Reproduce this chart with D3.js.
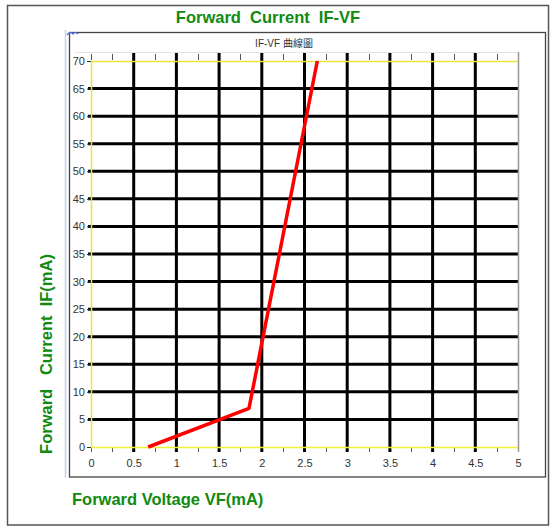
<!DOCTYPE html>
<html>
<head>
<meta charset="utf-8">
<script src="https://cdn.jsdelivr.net/npm/d3@7"></script>
<style>
  body { margin: 0; background: #fff; }
  text { font-family: "Liberation Sans", Arial, sans-serif; }
</style>
</head>
<body>
<div id="container"></div>
<script>
// data
var vfValues = [0.67, 1.85, 2.65];
var ifValues = [0, 7, 70];
var xTicks = [0, 0.5, 1, 1.5, 2, 2.5, 3, 3.5, 4, 4.5, 5];
var xMinorTicks = d3.range(0, 5.01, 0.25);
var yTicks = [0, 5, 10, 15, 20, 25, 30, 35, 40, 45, 50, 55, 60, 65, 70];
var xGrid = [0.5, 1, 1.5, 2, 2.5, 3, 3.5, 4, 4.5];
var yGrid = [5, 10, 15, 20, 25, 30, 35, 40, 45, 50, 55, 60, 65];

var width = 550, height = 527;
var green = "#108a10";

var svg = d3.select("#container").append("svg")
    .attr("width", width)
    .attr("height", height);

var x = d3.scaleLinear().domain([0, 5]).range([91, 518]);
var y = d3.scaleLinear().domain([0, 70]).range([447, 61]);

// outer frame
svg.append("rect")
    .attr("x", 7.5).attr("y", 5.5)
    .attr("width", 541).attr("height", 519.5)
    .attr("fill", "#fff").attr("stroke", "#555").attr("stroke-width", 1.5);

// light blue left line and inner chart box
svg.append("line")
    .attr("x1", 65.5).attr("x2", 65.5).attr("y1", 30).attr("y2", 478)
    .attr("stroke", "#c4d4ee").attr("stroke-width", 1.5);
svg.append("rect")
    .attr("x", 69.5).attr("y", 32.5)
    .attr("width", 476).attr("height", 444.5)
    .attr("fill", "#fff").attr("stroke", "#444").attr("stroke-width", 1.3);

// little blue mark at the corner
svg.append("path")
    .attr("d", "M67,35 Q70,31 73,34 Q75,31 78,34")
    .attr("fill", "none").attr("stroke", "#5a6ee8").attr("stroke-width", 1.3);

// titles
svg.append("text")
    .attr("x", 268).attr("y", 23)
    .attr("text-anchor", "middle")
    .style("white-space", "pre")
    .attr("font-size", 16.5).attr("font-weight", "bold").attr("fill", green)
    .text("Forward  Current  IF-VF");

svg.append("text")
    .attr("x", 284).attr("y", 47)
    .attr("text-anchor", "middle")
    .attr("font-size", 10).attr("fill", "#333")
    .style("font-family", "'Liberation Sans', 'Noto Sans CJK TC', sans-serif")
    .text("IF-VF 曲線圖");

svg.append("text")
    .attr("x", 72).attr("y", 505)
    .attr("font-size", 16.5).attr("font-weight", "bold").attr("fill", green)
    .text("Forward Voltage VF(mA)");

svg.append("text")
    .attr("transform", "translate(52,354) rotate(-90)")
    .attr("text-anchor", "middle")
    .style("white-space", "pre")
    .attr("font-size", 16.5).attr("font-weight", "bold").attr("fill", green)
    .text("Forward   Current  IF(mA)");

// top axis line (light gray) and minor ticks top/bottom
svg.append("line")
    .attr("x1", 75).attr("x2", x(5)).attr("y1", 52.5).attr("y2", 52.5)
    .attr("stroke", "#e4e4e4");

svg.append("g").selectAll("line.top")
    .data(xMinorTicks).enter().append("line")
    .attr("x1", d => Math.round(x(d)) + 0.5).attr("x2", d => Math.round(x(d)) + 0.5)
    .attr("y1", 54).attr("y2", 60)
    .attr("stroke", "#555");

svg.append("g").selectAll("line.bottom")
    .data(xMinorTicks).enter().append("line")
    .attr("x1", d => Math.round(x(d)) + 0.5).attr("x2", d => Math.round(x(d)) + 0.5)
    .attr("y1", 447).attr("y2", 452)
    .attr("stroke", "#555");

// grid (thick black)
svg.append("g").selectAll("line")
    .data(xGrid).enter().append("line")
    .attr("x1", d => x(d)).attr("x2", d => x(d))
    .attr("y1", 53).attr("y2", 452)
    .attr("stroke", "#000").attr("stroke-width", 3);

svg.append("g").selectAll("line")
    .data(yGrid).enter().append("line")
    .attr("x1", 88).attr("x2", x(5))
    .attr("y1", d => y(d)).attr("y2", d => y(d))
    .attr("stroke", "#000").attr("stroke-width", 3);

// plot borders
svg.append("line")
    .attr("x1", x(0)).attr("x2", x(5)).attr("y1", y(70) + 0.5).attr("y2", y(70) + 0.5)
    .attr("stroke", "#e8e83a").attr("stroke-width", 1.5);
svg.append("line")
    .attr("x1", x(0)).attr("x2", x(5)).attr("y1", y(0) + 0.5).attr("y2", y(0) + 0.5)
    .attr("stroke", "#f0f03a").attr("stroke-width", 1.5);
svg.append("line")
    .attr("x1", x(0) + 0.5).attr("x2", x(0) + 0.5).attr("y1", y(70)).attr("y2", y(0))
    .attr("stroke", "#e8e83a").attr("stroke-width", 1.5);
svg.append("line")
    .attr("x1", x(5) + 0.5).attr("x2", x(5) + 0.5).attr("y1", 52).attr("y2", y(0) + 5)
    .attr("stroke", "#999").attr("stroke-width", 1.5);

// axes with labels
var xAxis = svg.append("g")
    .attr("transform", "translate(0," + y(0) + ")")
    .call(d3.axisBottom(x).tickValues(xTicks).tickSize(0).tickPadding(12)
        .tickFormat(d3.format("~g")));
xAxis.select(".domain").remove();
xAxis.selectAll("text").attr("font-size", 11).attr("fill", "#333")
    .style("font-family", "'Liberation Sans', Arial, sans-serif");

var yAxis = svg.append("g")
    .attr("transform", "translate(" + x(0) + ",0)")
    .call(d3.axisLeft(y).tickValues(yTicks).tickSize(4).tickPadding(2));
yAxis.select(".domain").remove();
yAxis.selectAll("line").attr("stroke", "#333");
yAxis.selectAll("text").attr("font-size", 11).attr("fill", "#333")
    .style("font-family", "'Liberation Sans', Arial, sans-serif");

// IF-VF curve
var line = d3.line()
    .x((d, i) => x(vfValues[i]))
    .y(d => y(d));

svg.append("path")
    .datum(ifValues)
    .attr("d", line)
    .attr("fill", "none")
    .attr("stroke", "#ff0000")
    .attr("stroke-width", 3.5)
    .attr("stroke-linejoin", "round");
</script>
</body>
</html>
